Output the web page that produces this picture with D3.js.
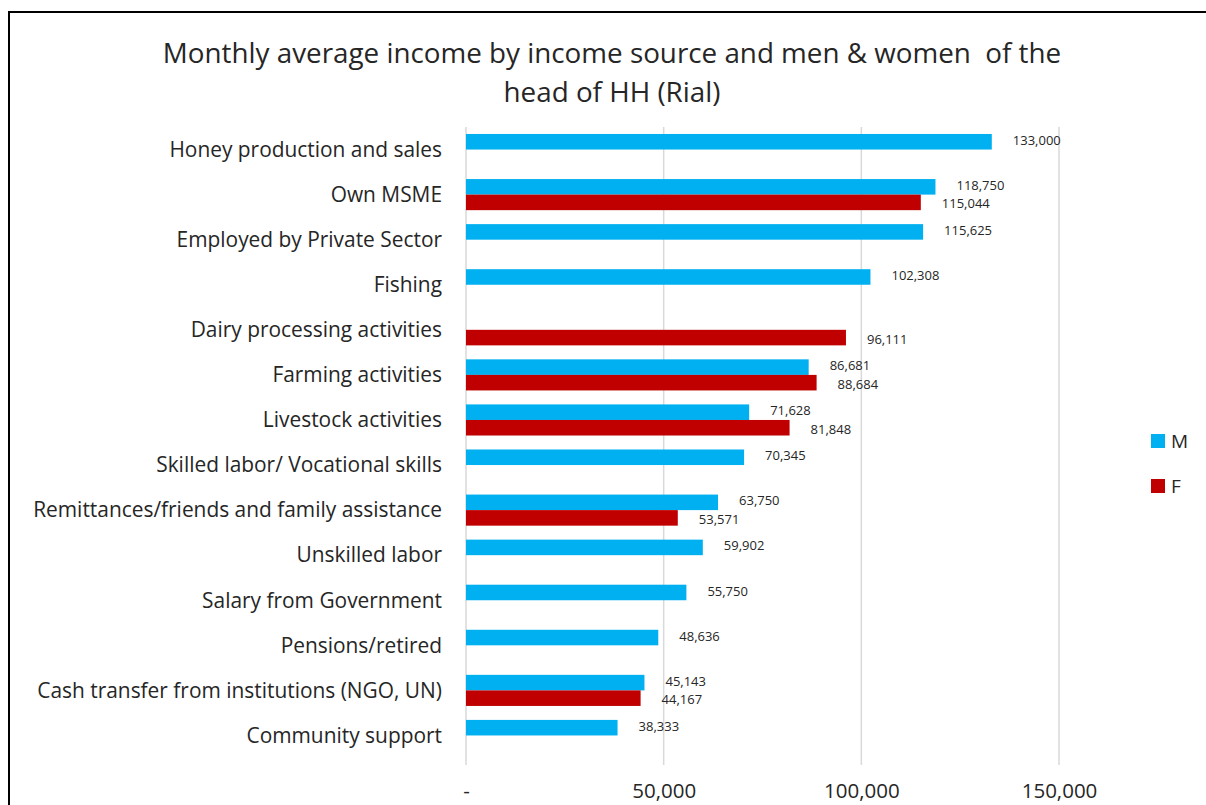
<!DOCTYPE html>
<html>
<head>
<meta charset="utf-8">
<script src="https://cdn.jsdelivr.net/npm/d3@7"></script>
<style>
  body { margin: 0; background: #fff; }
  svg { display: block; font-family: "Open Sans", Lato, sans-serif; }
</style>
</head>
<body>
<svg width="1206" height="805"></svg>
<script>
const categories = [
  "Honey production and sales",
  "Own MSME",
  "Employed by Private Sector",
  "Fishing",
  "Dairy processing activities",
  "Farming activities",
  "Livestock activities",
  "Skilled labor/ Vocational skills",
  "Remittances/friends and family assistance",
  "Unskilled labor",
  "Salary from Government",
  "Pensions/retired",
  "Cash transfer from institutions (NGO, UN)",
  "Community support"
];
// null = no bar for that group
const maleValues = [133000, 118750, 115625, 102308, null, 86681, 71628, 70345, 63750, 59902, 55750, 48636, 45143, 38333];
const femaleValues = [null, 115044, null, null, 96111, 88684, 81848, null, 53571, null, null, null, 44167, null];
const series = ["M", "F"];
const xTicks = [0, 50000, 100000, 150000];

const colors = { M: "#00B0F0", F: "#C00000" };
const textColor = "#262626";

const svg = d3.select("svg");

// outer frame (cropped chart border)
svg.append("path")
  .attr("d", "M9,806 L9,12 L1207,12")
  .attr("fill", "none")
  .attr("stroke", "#000")
  .attr("stroke-width", 2);

// title
svg.append("text")
  .attr("x", 612)
  .attr("y", 63)
  .attr("text-anchor", "middle")
  .attr("fill", textColor)
  .attr("xml:space", "preserve")
  .style("font-size", "27.8px")
  .text("Monthly average income by income source and men & women  of the");
svg.append("text")
  .attr("x", 612)
  .attr("y", 102)
  .attr("text-anchor", "middle")
  .attr("fill", textColor)
  .style("font-size", "27.8px")
  .text("head of HH (Rial)");

const margin = { top: 127, left: 466 };
const width = 1059 - margin.left;
const height = 758 - margin.top;

const chart = svg.append("g")
  .attr("transform", `translate(${margin.left},${margin.top})`);

const x = d3.scaleLinear().domain([0, 150000]).range([0, width]);
const y0 = d3.scaleBand().domain(categories).range([0, height]).paddingInner(0.31).paddingOuter(0.155);
const y1 = d3.scaleBand().domain(series).range([0, y0.bandwidth()]);

// gridlines
chart.append("g")
  .selectAll("line")
  .data(xTicks)
  .join("line")
  .attr("x1", d => x(d))
  .attr("x2", d => x(d))
  .attr("y1", 0)
  .attr("y2", height + 7)
  .attr("stroke", "#d9d9d9")
  .attr("stroke-width", 1.5);

// x axis labels
const xAxis = chart.append("g")
  .attr("transform", `translate(0,${height})`)
  .call(d3.axisBottom(x).tickValues(xTicks).tickSize(0).tickPadding(25)
    .tickFormat(d => d === 0 ? "-" : d3.format(",")(d)));
xAxis.select(".domain").remove();
xAxis.selectAll("text")
  .attr("fill", textColor)
  .style("font-size", "20.5px")
  .style("font-family", "'Open Sans', sans-serif");

// category labels
chart.append("g")
  .selectAll("text")
  .data(categories)
  .join("text")
  .attr("x", -24)
  .attr("y", d => y0(d) + y0.bandwidth() / 2)
  .attr("dy", "0.35em")
  .attr("text-anchor", "end")
  .attr("fill", textColor)
  .style("font-size", "20.9px")
  .text(d => d);

const barData = [];
categories.forEach((c, i) => {
  if (maleValues[i] != null) barData.push({ category: c, s: "M", value: maleValues[i] });
  if (femaleValues[i] != null) barData.push({ category: c, s: "F", value: femaleValues[i] });
});

chart.append("g")
  .selectAll("rect")
  .data(barData)
  .join("rect")
  .attr("x", 0)
  .attr("y", d => y0(d.category) + y1(d.s))
  .attr("width", d => x(d.value))
  .attr("height", y1.bandwidth())
  .attr("fill", d => colors[d.s]);

// value labels; M nudged up, F nudged down so paired labels don't collide
chart.append("g")
  .selectAll("text")
  .data(barData)
  .join("text")
  .attr("x", d => x(d.value) + 21)
  .attr("y", d => y0(d.category) + y1(d.s) + y1.bandwidth() / 2 + (d.s === "M" ? -1.5 : 1.5))
  .attr("dy", "0.35em")
  .attr("fill", textColor)
  .style("font-size", "13px")
  .text(d => d3.format(",")(d.value));

// legend
const legend = svg.append("g").attr("transform", "translate(1151,434)");
series.forEach((s, i) => {
  const row = legend.append("g").attr("transform", `translate(0,${i * 45})`);
  row.append("rect")
    .attr("width", 14)
    .attr("height", 14)
    .attr("fill", colors[s]);
  row.append("text")
    .attr("x", 20)
    .attr("y", 7)
    .attr("dy", "0.35em")
    .attr("fill", textColor)
    .style("font-size", "19px")
    .text(s);
});
</script>
</body>
</html>
